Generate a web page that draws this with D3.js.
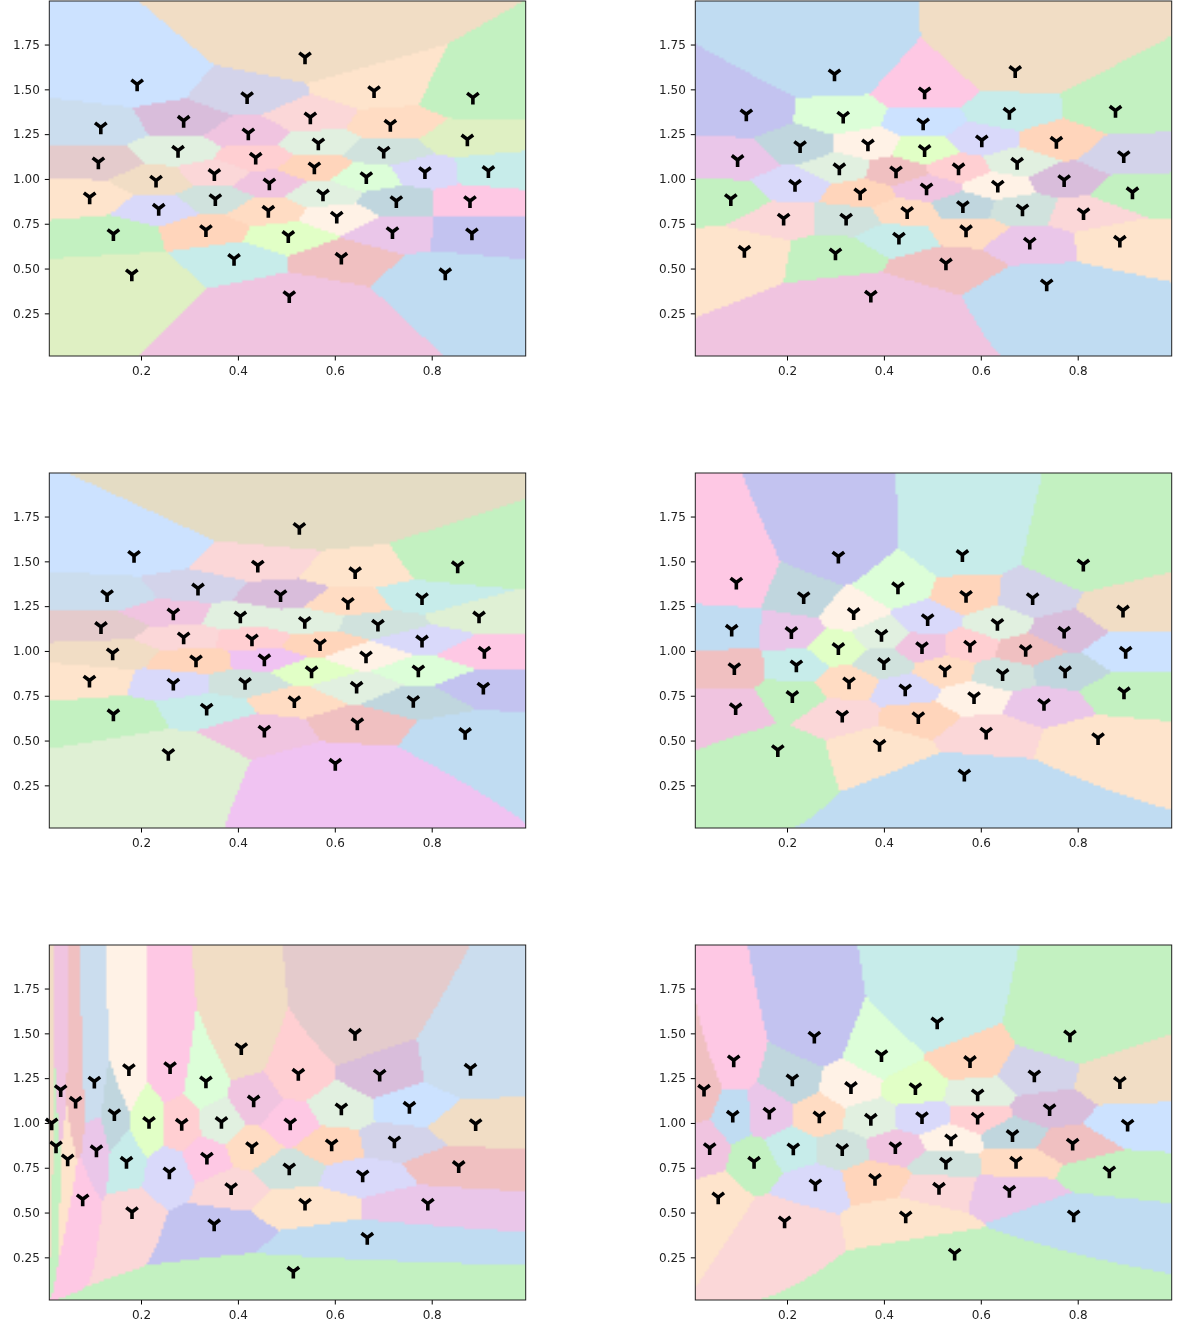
<!DOCTYPE html>
<html>
<head>
<meta charset="utf-8">
<script src="https://cdn.jsdelivr.net/npm/d3@7"></script>
<style>
  body { margin: 0; background: #fff; }
  #fig { position: relative; width: 1182px; height: 1330px; overflow: hidden; }
  canvas, svg { position: absolute; left: 0; top: 0; }
  text { font-family: "DejaVu Sans", sans-serif; }
</style>
</head>
<body>
<div id="fig"></div>
<script>
// tick labels
var xTicks = [0.2, 0.4, 0.6, 0.8];
var yTicks = [0.25, 0.5, 0.75, 1, 1.25, 1.5, 1.75];

// cell colours
var palette = {
  a: "#cce2ff", b: "#f1ddc5", c: "#c3f1c1", d: "#d3d3ea", e: "#fee4cc", f: "#d9bddb",
  g: "#fbd7d8", h: "#ffdcc3", i: "#cbddee", j: "#f0c4e0", k: "#dff0c3", l: "#e1f0e0",
  m: "#d0e2dd", n: "#e4cbcc", o: "#ffcfd2", p: "#ffd5bb", q: "#e1ffc6", r: "#d9d9fa",
  s: "#c7ecea", t: "#dcfed8", u: "#fec8e4", v: "#c0d6de", w: "#fff2e6", x: "#eac6e9",
  y: "#c3c3f0", z: "#f0c0c1", A: "#c0dcf2", B: "#f0c3f2", C: "#e4dcc4", D: "#dff0d4"
};

// panel 1
var xs1 = [.5385,.192,.419,.681,.885,.117,.288,.4215,.5495,.7146,.8736,.112,.2764,.4367,.566,.7009,.917,.231,.3514,.5578,.665,.786,.094,.2365,.3534,.4649,.5756,.727,.879,.143,.334,.4628,.604,.719,.883,.504,.392,.6135,.828,.181,.506];
var ys1 = [1.679,1.528,1.457,1.491,1.454,1.288,1.325,1.255,1.344,1.303,1.221,1.093,1.158,1.119,1.199,1.153,1.045,.991,1.028,1.065,1.011,1.039,.898,.834,.888,.976,.914,.877,.877,.693,.715,.823,.79,.704,.697,.682,.554,.561,.474,.468,.347];
var fills1 = "b a d e c i f j g h k n l o l m s b g p t r e r m j l v u c p h w x y q s z A k j".split(" ");

// panel 2
var xs2 = [.671,.298,.484,.116,.316,.481,.659,.878,.227,.367,.484,.602,.756,.895,.098,.308,.425,.554,.675,.772,.2165,.351,.488,.635,.084,.913,.193,.322,.448,.563,.686,.812,.431,.5695,.701,.887,.112,.3,.528,.736,.373];
var ys2 = [1.603,1.584,1.484,1.361,1.348,1.311,1.37,1.381,1.184,1.193,1.162,1.216,1.208,1.128,1.106,1.06,1.043,1.06,1.091,.994,.968,.92,.948,.963,.888,.926,.779,.779,.816,.849,.831,.81,.673,.714,.645,.656,.6,.585,.529,.412,.349];
var fills2 = "b A u y t a s c v w q r p d x l z o l f r p j w c c g m h v m g s h x e e c z A j".split(" ");

// panel 3
var xs3 = [.5268,.1856,.441,.642,.8536,.13,.3176,.488,.627,.78,.8977,.1174,.2667,.405,.538,.689,.78,.288,.429,.5695,.1415,.3135,.4546,.6644,.9087,.552,.7724,.0936,.2667,.4147,.645,.9066,.762,.5165,.3355,.143,.4546,.6465,.869,.2564,.601];
var ys3 = [1.687,1.531,1.477,1.44,1.473,1.312,1.349,1.312,1.269,1.295,1.193,1.134,1.21,1.193,1.163,1.147,1.059,1.076,1.065,1.039,.987,.948,.954,.97,.996,.887,.892,.835,.818,.822,.801,.796,.722,.72,.679,.647,.556,.597,.543,.426,.371];
var fills3 = "C a g e c i d f h s D n j l l m r g o p b p B w u q t e r m l y v h s c j z A D B".split(" ");

// panel 4
var xs4 = [.8116,.306,.562,.0954,.2344,.429,.5695,.707,.8935,.3376,.4903,.0858,.209,.395,.6343,.772,.306,.4786,.5777,.6926,.899,.0913,.2193,.4,.526,.645,.774,.328,.444,.586,.211,.8955,.094,.7304,.314,.471,.611,.842,.391,.181,.566];
var ys4 = [1.483,1.527,1.536,1.382,1.301,1.356,1.308,1.295,1.226,1.212,1.178,1.119,1.106,1.091,1.152,1.108,1.017,1.022,1.03,1.006,.996,.905,.92,.933,.892,.872,.887,.825,.786,.743,.749,.77,.681,.705,.64,.631,.545,.514,.477,.447,.311];
var fills4 = "c y s u v t p d b w r A x l l f q j o z a z s m h m v h r w c c j x g p g e e c A".split(" ");

// panel 5
var xs5 = [.6417,.407,.88,.6926,.5247,.26,.175,.1037,.0342,.065,.334,.4325,.6135,.754,.145,.2165,.284,.366,.508,.8907,.0156,.0246,.0486,.108,.17,.336,.429,.5935,.723,.2585,.506,.6575,.8557,.0796,.386,.5385,.792,.1814,.351,.667,.5144];
var ys5 = [1.498,1.418,1.303,1.27,1.275,1.312,1.301,1.231,1.184,1.119,1.232,1.126,1.082,1.091,1.05,1.006,.996,1.006,.998,.994,.998,.87,.797,.848,.784,.807,.866,.881,.898,.725,.747,.708,.76,.574,.637,.55,.55,.503,.435,.36,.1705];
var fills5 = "n b i f o u w i j z t j l a v q o l u b b c e x s u h p d r m r z u g e x g y A c".split(" ");

// panel 6
var xs6 = [.784,.51,.2564,.395,.5777,.09,.7105,.211,.887,.465,.332,.5935,.0287,.742,.088,.1635,.2667,.373,.4786,.5935,.903,.6654,.5385,.4236,.213,.314,.0404,.7896,.132,.528,.6727,.8653,.3816,.2585,.5137,.659,.058,.7917,.445,.195,.546];
var ys6 = [1.489,1.562,1.482,1.379,1.346,1.35,1.266,1.244,1.229,1.195,1.201,1.16,1.186,1.078,1.041,1.058,1.037,1.024,1.033,1.03,.991,.933,.909,.866,.859,.855,.86,.885,.784,.779,.784,.73,.688,.658,.639,.622,.585,.485,.479,.451,.271];
var fills6 = "c s y t p u d v b q w l z f A x h l r o a v w j s m j z c m h c p r g x e A e g c".split(" ");

// axis warp of each panel: power (0 = log) and weight
var powX = [1, 0.95, 1, 0.8, 0, 0.6];
var powY = [1, 0.8, 1.18, 0.65, 0, 0.5];
var weightY = [1, 1.07, 1.02, 1, 1, 1];

var sitesX = [xs1, xs2, xs3, xs4, xs5, xs6];
var sitesY = [ys1, ys2, ys3, ys4, ys5, ys6];
var sitesFill = [fills1, fills2, fills3, fills4, fills5, fills6];

var panelW = 476.4, panelH = 355;
var lefts = [49.3, 695.3];
var tops = [1, 473, 945];
var gridW = 200, gridH = 150;

var fig = d3.select("#fig");
var svg = fig.append("svg").attr("width", 1182).attr("height", 1330).style("z-index", 2);

function warp(v, p) {
  return p === 0 ? Math.log(v) : Math.pow(v, p);
}

sitesX.forEach(function(xs, n) {
  var left = lefts[n % 2], top = tops[Math.floor(n / 2)];
  var ys = sitesY[n], fills = sitesFill[n].map(function(k) { return d3.rgb(palette[k]); });

  var x = d3.scaleLinear().domain([0.0107, 0.994]).range([0, panelW]);
  var y = d3.scaleLinear().domain([0.012, 1.993]).range([panelH, 0]);

  // nearest site per grid cell, in the warped space of this panel
  var ux = xs.map(function(v) { return warp(v, powX[n]); });
  var uy = ys.map(function(v) { return warp(v, powY[n]) * weightY[n]; });

  var canvas = fig.append("canvas")
    .attr("width", gridW).attr("height", gridH)
    .style("left", left + "px").style("top", top + "px")
    .style("width", panelW + "px").style("height", panelH + "px");
  var ctx = canvas.node().getContext("2d");
  var img = ctx.createImageData(gridW, gridH);
  for (var j = 0; j < gridH; j++) {
    var gy = warp(y.invert((j + 0.5) * panelH / gridH), powY[n]) * weightY[n];
    for (var i = 0; i < gridW; i++) {
      var gx = warp(x.invert((i + 0.5) * panelW / gridW), powX[n]);
      var best = 0, bestD = Infinity;
      for (var s = 0; s < ux.length; s++) {
        var d = (gx - ux[s]) * (gx - ux[s]) + (gy - uy[s]) * (gy - uy[s]);
        if (d < bestD) { bestD = d; best = s; }
      }
      var o = (j * gridW + i) * 4;
      img.data[o] = fills[best].r;
      img.data[o + 1] = fills[best].g;
      img.data[o + 2] = fills[best].b;
      img.data[o + 3] = 255;
    }
  }
  ctx.putImageData(img, 0, 0);

  var g = svg.append("g").attr("transform", "translate(" + left + "," + top + ")");

  // tri_down markers
  g.selectAll("path.site")
    .data(xs)
    .enter().append("path")
    .attr("class", "site")
    .attr("transform", function(d, k) { return "translate(" + x(d) + "," + y(ys[k]) + ")"; })
    .attr("d", "M0,0V7M0,0L-5.8,-4.4M0,0L5.8,-4.4")
    .attr("fill", "none")
    .attr("stroke", "#000")
    .attr("stroke-width", 3.6);

  // axes
  g.append("g")
    .attr("transform", "translate(0," + panelH + ")")
    .call(d3.axisBottom(x).tickValues(xTicks).tickFormat(d3.format(".1f")).tickSizeOuter(0).tickSize(4.5).tickPadding(6));
  g.append("g")
    .call(d3.axisLeft(y).tickValues(yTicks).tickFormat(d3.format(".2f")).tickSizeOuter(0).tickSize(4.5).tickPadding(5));
  g.selectAll("g text").attr("font-size", 12).style("font-family", "DejaVu Sans").attr("fill", "#222");
  g.selectAll("g .domain").remove();

  g.append("rect")
    .attr("width", panelW).attr("height", panelH)
    .attr("fill", "none").attr("stroke", "#222").attr("stroke-width", 1);
});
</script>
</body>
</html>
